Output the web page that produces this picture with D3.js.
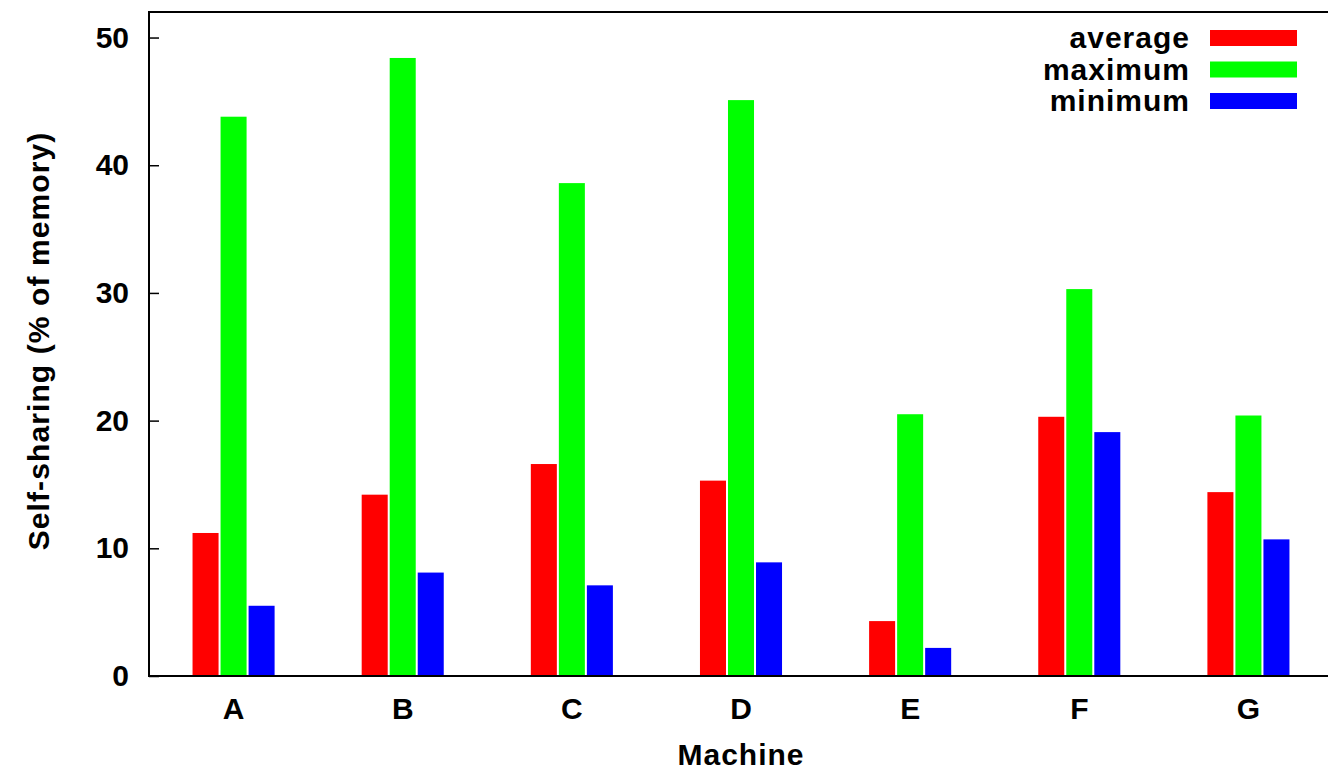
<!DOCTYPE html>
<html>
<head>
<meta charset="utf-8">
<script src="https://cdn.jsdelivr.net/npm/d3@7"></script>
<style>
  body { margin: 0; background: #fff; }
  svg { display: block; }
  text { font-family: "Liberation Sans", Arial, sans-serif; font-weight: bold; fill: #000; }
</style>
</head>
<body>
<svg width="1328" height="769"></svg>
<script>
var machines = ["A", "B", "C", "D", "E", "F", "G"];
var seriesNames = ["average", "maximum", "minimum"];
var seriesColors = ["#ff0000", "#00ff00", "#0000ff"];

var average = [11.2, 14.2, 16.6, 15.3, 4.3, 20.3, 14.4];
var maximum = [43.8, 48.4, 38.6, 45.1, 20.5, 30.3, 20.4];
var minimum = [5.5, 8.1, 7.1, 8.9, 2.2, 19.1, 10.7];

var yTicks = [0, 10, 20, 30, 40, 50];

var svg = d3.select("svg");
var margin = { top: 12, right: -5, bottom: 93, left: 149 };
var width = +svg.attr("width") - margin.left - margin.right;
var height = +svg.attr("height") - margin.top - margin.bottom;

var values = [average, maximum, minimum];
var rows = machines.map(function(m, i) {
  return { machine: m, vals: seriesNames.map(function(s, j) { return { key: s, value: values[j][i], color: seriesColors[j] }; }) };
});

var x0 = d3.scaleBand()
  .domain(machines)
  .range([0, width])
  .paddingInner(0.503)
  .paddingOuter(0.2515);

var x1 = d3.scaleBand()
  .domain(seriesNames)
  .range([0, x0.bandwidth()]);

var y = d3.scaleLinear()
  .domain([0, 52])
  .range([height, 0]);

var g = svg.append("g")
  .attr("transform", "translate(" + margin.left + "," + margin.top + ")");

// bars
g.append("g")
  .selectAll("g")
  .data(rows)
  .enter().append("g")
    .attr("transform", function(d) { return "translate(" + x0(d.machine) + ",0)"; })
  .selectAll("rect")
  .data(function(d) { return d.vals; })
  .enter().append("rect")
    .attr("x", function(d) { return x1(d.key) + 1; })
    .attr("width", x1.bandwidth() - 2)
    .attr("y", function(d) { return y(d.value); })
    .attr("height", function(d) { return height - y(d.value); })
    .attr("fill", function(d) { return d.color; });

// frame
g.append("rect")
  .attr("width", width)
  .attr("height", height)
  .attr("fill", "none")
  .attr("stroke", "#000")
  .attr("stroke-width", 2);

// y axis
var yAxis = g.append("g")
  .call(d3.axisLeft(y).tickValues(yTicks).tickSize(-10).tickPadding(20));
yAxis.select(".domain").remove();
yAxis.selectAll(".tick line").attr("stroke", "#000").attr("stroke-width", 1.5);
yAxis.selectAll(".tick text")
  .attr("font-size", 30)
  .attr("font-family", "'Liberation Sans', Arial, sans-serif")
  .attr("font-weight", "bold")
  .attr("fill", "#000");

// x axis
var xAxis = g.append("g")
  .attr("transform", "translate(0," + height + ")")
  .call(d3.axisBottom(x0).tickSize(0).tickPadding(22));
xAxis.select(".domain").remove();
xAxis.selectAll(".tick text")
  .attr("font-size", 30)
  .attr("font-family", "'Liberation Sans', Arial, sans-serif")
  .attr("font-weight", "bold")
  .attr("fill", "#000");

// axis titles
svg.append("text")
  .attr("x", 741)
  .attr("y", 765)
  .attr("text-anchor", "middle")
  .attr("font-size", 30)
  .attr("letter-spacing", 1)
  .text("Machine");

svg.append("text")
  .attr("transform", "translate(49,341) rotate(-90)")
  .attr("text-anchor", "middle")
  .attr("font-size", 30)
  .attr("letter-spacing", 1.1)
  .text("Self-sharing (% of memory)");

// legend
var legend = svg.append("g")
  .selectAll("g")
  .data(seriesNames)
  .enter().append("g")
    .attr("transform", function(d, i) { return "translate(0," + (i * 31.5) + ")"; });

legend.append("rect")
  .attr("x", 1210)
  .attr("y", 30)
  .attr("width", 87)
  .attr("height", 16)
  .attr("fill", function(d, i) { return seriesColors[i]; });

legend.append("text")
  .attr("x", 1190)
  .attr("y", 48)
  .attr("text-anchor", "end")
  .attr("font-size", 30)
  .attr("letter-spacing", 1)
  .text(function(d) { return d; });
</script>
</body>
</html>
